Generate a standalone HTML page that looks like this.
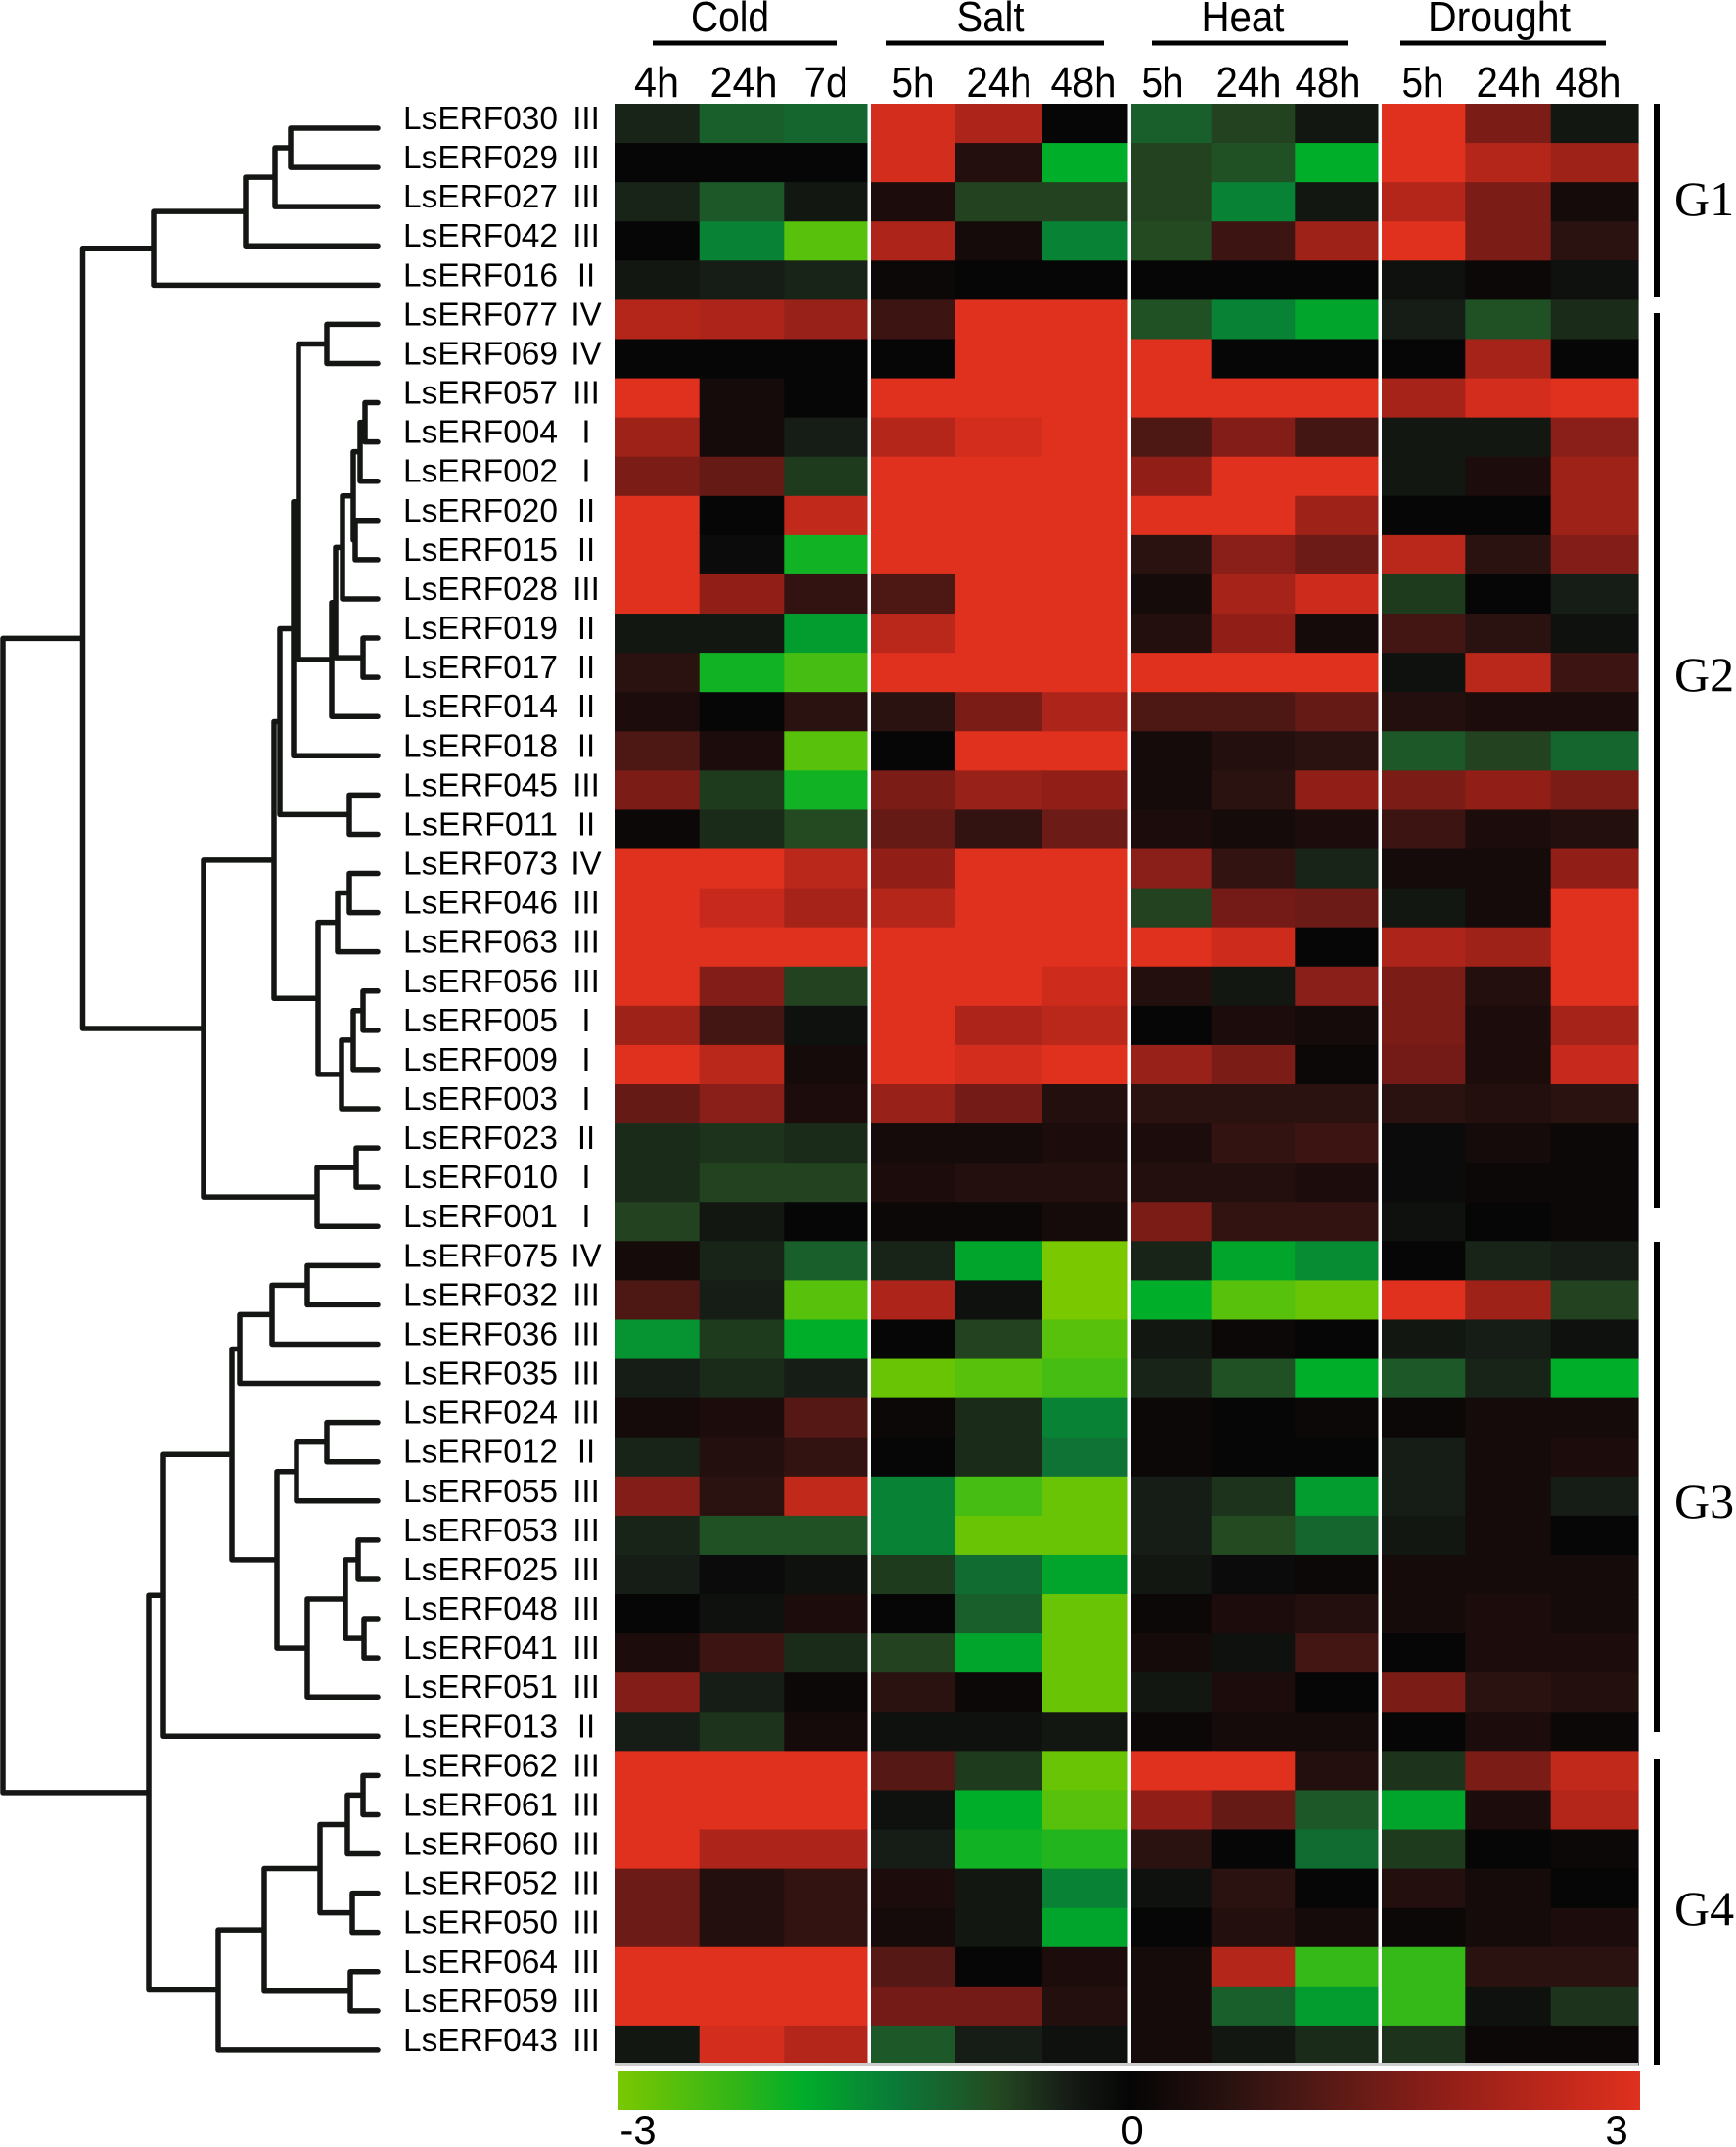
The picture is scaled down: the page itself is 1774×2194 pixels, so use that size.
<!DOCTYPE html>
<html><head><meta charset="utf-8"><style>
html,body{margin:0;padding:0;background:#fff;}
svg{display:block;}
text{font-family:"Liberation Sans",sans-serif;fill:#000;}
.g{font-family:"Liberation Serif",serif;font-size:50px;}
</style></head><body>
<svg id="s" width="1774" height="2194" viewBox="0 0 1774 2194" xmlns="http://www.w3.org/2000/svg">
<defs><linearGradient id="cb" x1="0" x2="1" y1="0" y2="0">
<stop offset="0" stop-color="#7ac800"/><stop offset="0.12" stop-color="#2fb418"/><stop offset="0.18" stop-color="#00ae2a"/><stop offset="0.27" stop-color="#0a7a38"/><stop offset="0.37" stop-color="#244a22"/><stop offset="0.44" stop-color="#161c16"/><stop offset="0.5" stop-color="#050505"/><stop offset="0.6" stop-color="#2a1210"/><stop offset="0.7" stop-color="#5a1a16"/><stop offset="0.8" stop-color="#8c1e18"/><stop offset="0.9" stop-color="#b8261a"/><stop offset="1" stop-color="#e0301e"/></linearGradient></defs>
<g id="hm"></g>
<g id="dd" stroke="#141614" stroke-width="5.5" fill="none" stroke-linecap="round" stroke-linejoin="round"></g>
<g font-size="44" text-anchor="middle" lengthAdjust="spacingAndGlyphs">
<text x="746" y="32" textLength="80" lengthAdjust="spacingAndGlyphs">Cold</text><text x="1012" y="32" textLength="69" lengthAdjust="spacingAndGlyphs">Salt</text><text x="1270" y="32" textLength="85" lengthAdjust="spacingAndGlyphs">Heat</text><text x="1532" y="32" textLength="146" lengthAdjust="spacingAndGlyphs">Drought</text>
<text x="671" y="99" textLength="46" lengthAdjust="spacingAndGlyphs">4h</text><text x="760" y="99" textLength="69" lengthAdjust="spacingAndGlyphs">24h</text><text x="844" y="99" textLength="45" lengthAdjust="spacingAndGlyphs">7d</text>
<text x="933" y="99" textLength="43" lengthAdjust="spacingAndGlyphs">5h</text><text x="1021" y="99" textLength="67" lengthAdjust="spacingAndGlyphs">24h</text><text x="1107" y="99" textLength="67" lengthAdjust="spacingAndGlyphs">48h</text>
<text x="1188" y="99" textLength="43" lengthAdjust="spacingAndGlyphs">5h</text><text x="1276" y="99" textLength="67" lengthAdjust="spacingAndGlyphs">24h</text><text x="1357" y="99" textLength="67" lengthAdjust="spacingAndGlyphs">48h</text>
<text x="1454" y="99" textLength="43" lengthAdjust="spacingAndGlyphs">5h</text><text x="1542" y="99" textLength="67" lengthAdjust="spacingAndGlyphs">24h</text><text x="1623" y="99" textLength="67" lengthAdjust="spacingAndGlyphs">48h</text>
</g>
<g stroke="#000" stroke-width="5">
<line x1="667" y1="44" x2="855" y2="44"/><line x1="905" y1="44" x2="1128" y2="44"/><line x1="1177" y1="44" x2="1378" y2="44"/><line x1="1431" y1="44" x2="1641" y2="44"/>
</g>
<g stroke="#000" stroke-width="6">
<line x1="1693" y1="106" x2="1693" y2="304"/><line x1="1693" y1="320" x2="1693" y2="1234"/><line x1="1693" y1="1269" x2="1693" y2="1770"/><line x1="1693" y1="1798" x2="1693" y2="2110"/>
</g>
<text class="g" x="1711" y="220">G1</text><text class="g" x="1711" y="706">G2</text><text class="g" x="1711" y="1551">G3</text><text class="g" x="1711" y="1967">G4</text>
<rect x="632" y="2116" width="1044" height="40" fill="url(#cb)"/>
<g font-size="42" text-anchor="middle"><text x="652" y="2191">-3</text><text x="1157" y="2191">0</text><text x="1652" y="2191">3</text></g>
<g id="lab" font-size="33"></g>
<g font-size="33">
<text y="132"><tspan x="412">LsERF030</tspan><tspan x="599" text-anchor="middle">III</tspan></text>
<text y="172.1"><tspan x="412">LsERF029</tspan><tspan x="599" text-anchor="middle">III</tspan></text>
<text y="212.2"><tspan x="412">LsERF027</tspan><tspan x="599" text-anchor="middle">III</tspan></text>
<text y="252.2"><tspan x="412">LsERF042</tspan><tspan x="599" text-anchor="middle">III</tspan></text>
<text y="292.3"><tspan x="412">LsERF016</tspan><tspan x="599" text-anchor="middle">II</tspan></text>
<text y="332.4"><tspan x="412">LsERF077</tspan><tspan x="599" text-anchor="middle">IV</tspan></text>
<text y="372.5"><tspan x="412">LsERF069</tspan><tspan x="599" text-anchor="middle">IV</tspan></text>
<text y="412.6"><tspan x="412">LsERF057</tspan><tspan x="599" text-anchor="middle">III</tspan></text>
<text y="452.6"><tspan x="412">LsERF004</tspan><tspan x="599" text-anchor="middle">I</tspan></text>
<text y="492.7"><tspan x="412">LsERF002</tspan><tspan x="599" text-anchor="middle">I</tspan></text>
<text y="532.8"><tspan x="412">LsERF020</tspan><tspan x="599" text-anchor="middle">II</tspan></text>
<text y="572.9"><tspan x="412">LsERF015</tspan><tspan x="599" text-anchor="middle">II</tspan></text>
<text y="613"><tspan x="412">LsERF028</tspan><tspan x="599" text-anchor="middle">III</tspan></text>
<text y="653"><tspan x="412">LsERF019</tspan><tspan x="599" text-anchor="middle">II</tspan></text>
<text y="693.1"><tspan x="412">LsERF017</tspan><tspan x="599" text-anchor="middle">II</tspan></text>
<text y="733.2"><tspan x="412">LsERF014</tspan><tspan x="599" text-anchor="middle">II</tspan></text>
<text y="773.3"><tspan x="412">LsERF018</tspan><tspan x="599" text-anchor="middle">II</tspan></text>
<text y="813.4"><tspan x="412">LsERF045</tspan><tspan x="599" text-anchor="middle">III</tspan></text>
<text y="853.4"><tspan x="412">LsERF011</tspan><tspan x="599" text-anchor="middle">II</tspan></text>
<text y="893.5"><tspan x="412">LsERF073</tspan><tspan x="599" text-anchor="middle">IV</tspan></text>
<text y="933.6"><tspan x="412">LsERF046</tspan><tspan x="599" text-anchor="middle">III</tspan></text>
<text y="973.7"><tspan x="412">LsERF063</tspan><tspan x="599" text-anchor="middle">III</tspan></text>
<text y="1013.8"><tspan x="412">LsERF056</tspan><tspan x="599" text-anchor="middle">III</tspan></text>
<text y="1053.8"><tspan x="412">LsERF005</tspan><tspan x="599" text-anchor="middle">I</tspan></text>
<text y="1093.9"><tspan x="412">LsERF009</tspan><tspan x="599" text-anchor="middle">I</tspan></text>
<text y="1134"><tspan x="412">LsERF003</tspan><tspan x="599" text-anchor="middle">I</tspan></text>
<text y="1174.1"><tspan x="412">LsERF023</tspan><tspan x="599" text-anchor="middle">II</tspan></text>
<text y="1214.2"><tspan x="412">LsERF010</tspan><tspan x="599" text-anchor="middle">I</tspan></text>
<text y="1254.2"><tspan x="412">LsERF001</tspan><tspan x="599" text-anchor="middle">I</tspan></text>
<text y="1294.3"><tspan x="412">LsERF075</tspan><tspan x="599" text-anchor="middle">IV</tspan></text>
<text y="1334.4"><tspan x="412">LsERF032</tspan><tspan x="599" text-anchor="middle">III</tspan></text>
<text y="1374.5"><tspan x="412">LsERF036</tspan><tspan x="599" text-anchor="middle">III</tspan></text>
<text y="1414.6"><tspan x="412">LsERF035</tspan><tspan x="599" text-anchor="middle">III</tspan></text>
<text y="1454.6"><tspan x="412">LsERF024</tspan><tspan x="599" text-anchor="middle">III</tspan></text>
<text y="1494.7"><tspan x="412">LsERF012</tspan><tspan x="599" text-anchor="middle">II</tspan></text>
<text y="1534.8"><tspan x="412">LsERF055</tspan><tspan x="599" text-anchor="middle">III</tspan></text>
<text y="1574.9"><tspan x="412">LsERF053</tspan><tspan x="599" text-anchor="middle">III</tspan></text>
<text y="1615"><tspan x="412">LsERF025</tspan><tspan x="599" text-anchor="middle">III</tspan></text>
<text y="1655"><tspan x="412">LsERF048</tspan><tspan x="599" text-anchor="middle">III</tspan></text>
<text y="1695.1"><tspan x="412">LsERF041</tspan><tspan x="599" text-anchor="middle">III</tspan></text>
<text y="1735.2"><tspan x="412">LsERF051</tspan><tspan x="599" text-anchor="middle">III</tspan></text>
<text y="1775.3"><tspan x="412">LsERF013</tspan><tspan x="599" text-anchor="middle">II</tspan></text>
<text y="1815.4"><tspan x="412">LsERF062</tspan><tspan x="599" text-anchor="middle">III</tspan></text>
<text y="1855.4"><tspan x="412">LsERF061</tspan><tspan x="599" text-anchor="middle">III</tspan></text>
<text y="1895.5"><tspan x="412">LsERF060</tspan><tspan x="599" text-anchor="middle">III</tspan></text>
<text y="1935.6"><tspan x="412">LsERF052</tspan><tspan x="599" text-anchor="middle">III</tspan></text>
<text y="1975.7"><tspan x="412">LsERF050</tspan><tspan x="599" text-anchor="middle">III</tspan></text>
<text y="2015.8"><tspan x="412">LsERF064</tspan><tspan x="599" text-anchor="middle">III</tspan></text>
<text y="2055.8"><tspan x="412">LsERF059</tspan><tspan x="599" text-anchor="middle">III</tspan></text>
<text y="2095.9"><tspan x="412">LsERF043</tspan><tspan x="599" text-anchor="middle">III</tspan></text>
</g>
</svg>
<script>
var V=[
[-0.5,-1.3,-1.4,2.8,2.2,0,-1.3,-0.9,-0.3,3,1.5,-0.3],
[0,0,0,2.8,0.4,-2.3,-0.9,-1.1,-2.3,3,2.3,2.0],
[-0.5,-1.2,-0.3,0.3,-0.9,-0.9,-0.9,-1.8,-0.3,2.3,1.5,0.2],
[0,-1.8,-2.8,2.2,0.2,-1.8,-1,0.7,2.0,3,1.5,0.5],
[-0.3,-0.4,-0.5,0.1,0,0,0,0,0,-0.2,0.1,-0.2],
[2.3,2.2,1.9,0.7,3,3,-1.1,-1.8,-2.2,-0.4,-1.1,-0.6],
[0,0,0,0,3,3,3,0,0,0,2.1,0],
[3,0.2,0,3,3,3,3,3,3,2.1,2.8,3],
[2,0.2,-0.4,2.3,2.8,3,0.9,1.6,0.8,-0.3,-0.3,1.7],
[1.5,1.2,-0.8,3,3,3,1.8,3,3,-0.3,0.3,2],
[3,0,2.5,3,3,3,3,3,2,0,0,2],
[3,-0.1,-2.4,3,3,3,0.5,1.7,1.3,2.4,0.5,1.6],
[3,1.8,0.6,0.9,3,3,0.2,2.1,2.7,-0.8,0,-0.4],
[-0.3,-0.3,-2.1,2.4,3,3,0.4,1.8,0.2,0.8,0.5,-0.2],
[0.5,-2.4,-2.7,3,3,3,3,3,3,-0.2,2.4,0.7],
[0.3,0,0.5,0.5,1.5,2.2,0.9,0.9,1.2,0.4,0.3,0.3],
[0.9,0.3,-2.8,0,3,3,0.2,0.4,0.5,-1.2,-0.9,-1.4],
[1.5,-0.8,-2.4,1.5,1.9,1.8,0.2,0.5,1.8,1.5,1.8,1.5],
[0.1,-0.6,-1,1.2,0.6,1.3,0.3,0.2,0.3,0.7,0.3,0.4],
[3,3,2.4,1.8,3,3,1.7,0.6,-0.5,0.2,0.2,1.8],
[3,2.6,2.1,2.3,3,3,-0.9,1.4,1.3,-0.3,0.2,3],
[3,3,3,3,3,3,3,2.7,0,2.2,2,3],
[3,1.6,-0.9,3,3,2.7,0.4,-0.3,1.7,1.5,0.4,3],
[2,0.8,-0.2,3,2.2,2.4,0,0.3,0.2,1.5,0.3,2.1],
[3,2.4,0.2,3,2.8,3,1.9,1.5,0.1,1.4,0.3,2.6],
[1.2,1.7,0.3,1.9,1.4,0.4,0.5,0.5,0.5,0.5,0.4,0.5],
[-0.6,-0.7,-0.6,0.2,0.2,0.3,0.3,0.6,0.7,-0.1,0.2,0.1],
[-0.6,-0.9,-0.9,0.3,0.4,0.4,0.4,0.4,0.3,-0.1,0.1,0.1],
[-0.9,-0.3,0,0.1,0.1,0.2,1.5,0.6,0.6,-0.2,0,0.1],
[0.2,-0.5,-1.3,-0.5,-2.2,-3,-0.5,-2.2,-1.9,0,-0.5,-0.4],
[0.9,-0.4,-2.8,2.2,-0.2,-3,-2.3,-2.8,-2.9,3,2,-0.9],
[-2,-0.8,-2.3,0,-0.9,-2.8,-0.3,0.1,0,-0.3,-0.4,-0.2],
[-0.4,-0.6,-0.4,-2.9,-2.8,-2.7,-0.5,-1.1,-2.3,-1.2,-0.5,-2.3],
[0.2,0.3,1,0.1,-0.6,-1.8,0.1,0,0.1,0.1,0.2,0.2],
[-0.5,0.4,0.6,0,-0.6,-1.6,0.1,0,0,-0.4,0.2,0.3],
[1.6,0.5,2.5,-1.8,-2.7,-2.9,-0.4,-0.7,-2.1,-0.4,0.2,-0.4],
[-0.5,-1.1,-1.1,-1.8,-2.9,-2.9,-0.4,-1,-1.4,-0.3,0.2,0],
[-0.4,-0.1,-0.2,-0.8,-1.5,-2.2,-0.3,-0.1,0.1,0.2,0.2,0.2],
[0,-0.2,0.3,0,-1.3,-2.9,0.1,0.3,0.4,0.2,0.3,0.2],
[0.3,0.7,-0.6,-0.9,-2.2,-2.9,0.2,-0.2,0.8,0,0.3,0.3],
[1.6,-0.4,0.1,0.5,0.1,-2.9,-0.3,0.3,0,1.5,0.5,0.4],
[-0.4,-0.7,0.2,-0.2,-0.2,-0.3,0.1,0.2,0.2,0,0.3,0.1],
[3,3,3,1,-0.8,-2.9,3,3,0.4,-0.7,1.5,2.5],
[3,3,3,-0.2,-2.3,-2.8,1.8,1.2,-1.2,-2.2,0.3,2.3],
[3,2.2,2.2,-0.4,-2.4,-2.5,0.5,0,-1.5,-0.8,0,0.1],
[1.3,0.4,0.6,0.3,-0.3,-1.8,-0.2,0.5,0,0.4,0.2,0],
[1.3,0.4,0.6,0.2,-0.3,-2.2,0,0.4,0.2,0.1,0.2,0.3],
[3,3,3,1,0,0.3,0.2,2.3,-2.6,-2.6,0.5,0.5],
[3,3,3,1.4,1.4,0.4,0.2,-1.3,-2.1,-2.6,-0.2,-0.7],
[-0.3,2.8,2.3,-1.2,-0.4,-0.2,0.2,-0.3,-0.6,-0.7,0.1,0.1]];
var S=[[-3,[122,200,0]],[-2.3,[0,174,42]],[-1.7,[10,122,56]],[-1,[36,74,34]],[-0.4,[22,28,22]],[0,[6,6,6]],[0.5,[42,18,16]],[1,[86,24,21]],[1.7,[138,30,24]],[2.3,[180,38,26]],[3,[224,48,30]]];
function col(v){v=Math.max(-3,Math.min(3,v));for(var i=0;i<S.length-1;i++){if(v<=S[i+1][0]){var t=(v-S[i][0])/(S[i+1][0]-S[i][0]);var a=S[i][1],b=S[i+1][1];return 'rgb('+a.map(function(x,k){return Math.round(x+(b[k]-x)*t)}).join(',')+')';}}return 'rgb(224,48,30)';}
var ns='http://www.w3.org/2000/svg';
function el(n,a,p){var e=document.createElementNS(ns,n);for(var k in a)e.setAttribute(k,a[k]);p.appendChild(e);return e;}
var hm=document.getElementById('hm');
var cx=[628,714.7,801.3,888,976,1065,1154,1238.7,1323.3,1410,1497.3,1584.7,1674];
var RH=40.08,T0=106;
for(var r=0;r<50;r++)for(var c=0;c<12;c++){el('rect',{x:cx[c],y:T0+r*RH,width:cx[c+1]-cx[c]+0.6,height:RH+0.6,fill:col(V[r][c])},hm);}
[888,1154,1410].forEach(function(x){el('rect',{x:x-1.5,y:T0,width:3.5,height:50*RH,fill:'#fff'},hm);});
el('rect',{x:628,y:2108,width:1046,height:3,fill:'#ccc'},hm);
// stretch gene names to reference width
var ts=document.querySelectorAll('tspan[x="412"]');
for(var q=0;q<ts.length;q++){ts[q].setAttribute('textLength','158');ts[q].setAttribute('lengthAdjust','spacingAndGlyphs');}
var dd=document.getElementById('dd');var LX=386;
function ly(i){return 131+RH*i;}
function N(x,a,b){return {x:x,a:a,b:b};}
function pos(n){if(typeof n==='number')return {x:LX,y:ly(n)};return {x:n.x,y:n.y};}
var d='';
function draw(n){if(typeof n==='number')return;draw(n.a);draw(n.b);var A=pos(n.a),B=pos(n.b);n.y=(A.y+B.y)/2;d+='M'+A.x+' '+A.y+'H'+n.x+'V'+B.y+'H'+B.x;}
var G1=N(157,N(251,N(281,N(297,0,1),2),3),4);
var a=N(373,7,8),b=N(368,a,9),c=N(363,10,11),dn=N(361,b,c),e=N(350,dn,12),f=N(371,13,14),g=N(343,e,f),h=N(339,g,15);
var i1=N(305,N(334,5,6),h),j=N(300,i1,16),k=N(286,j,N(357,17,18));
var r1=N(345,N(357,19,20),21),u=N(349,N(361,N(371,22,23),24),25),p=N(325,r1,u);
var m=N(280,k,p),w=N(324,N(364,26,27),28),G2=N(208,m,w);
var TOP=N(84.5,G1,G2);
var c35=N(245,N(278,N(314,29,30),31),32);
var c55=N(303,N(334,33,34),35);
var c51=N(314,N(353,N(366,36,37),N(372,38,39)),40);
var X=N(237,c35,N(283,c55,c51)),Z=N(167,X,41);
var G4=N(223,N(270,N(327,N(355,N(371,42,43),44),N(360,45,46)),N(358,47,48)),49);
var L=N(152,Z,G4);var ROOT=N(3,TOP,L);
draw(ROOT);
el('path',{d:d},dd);
</script>
</body></html>
